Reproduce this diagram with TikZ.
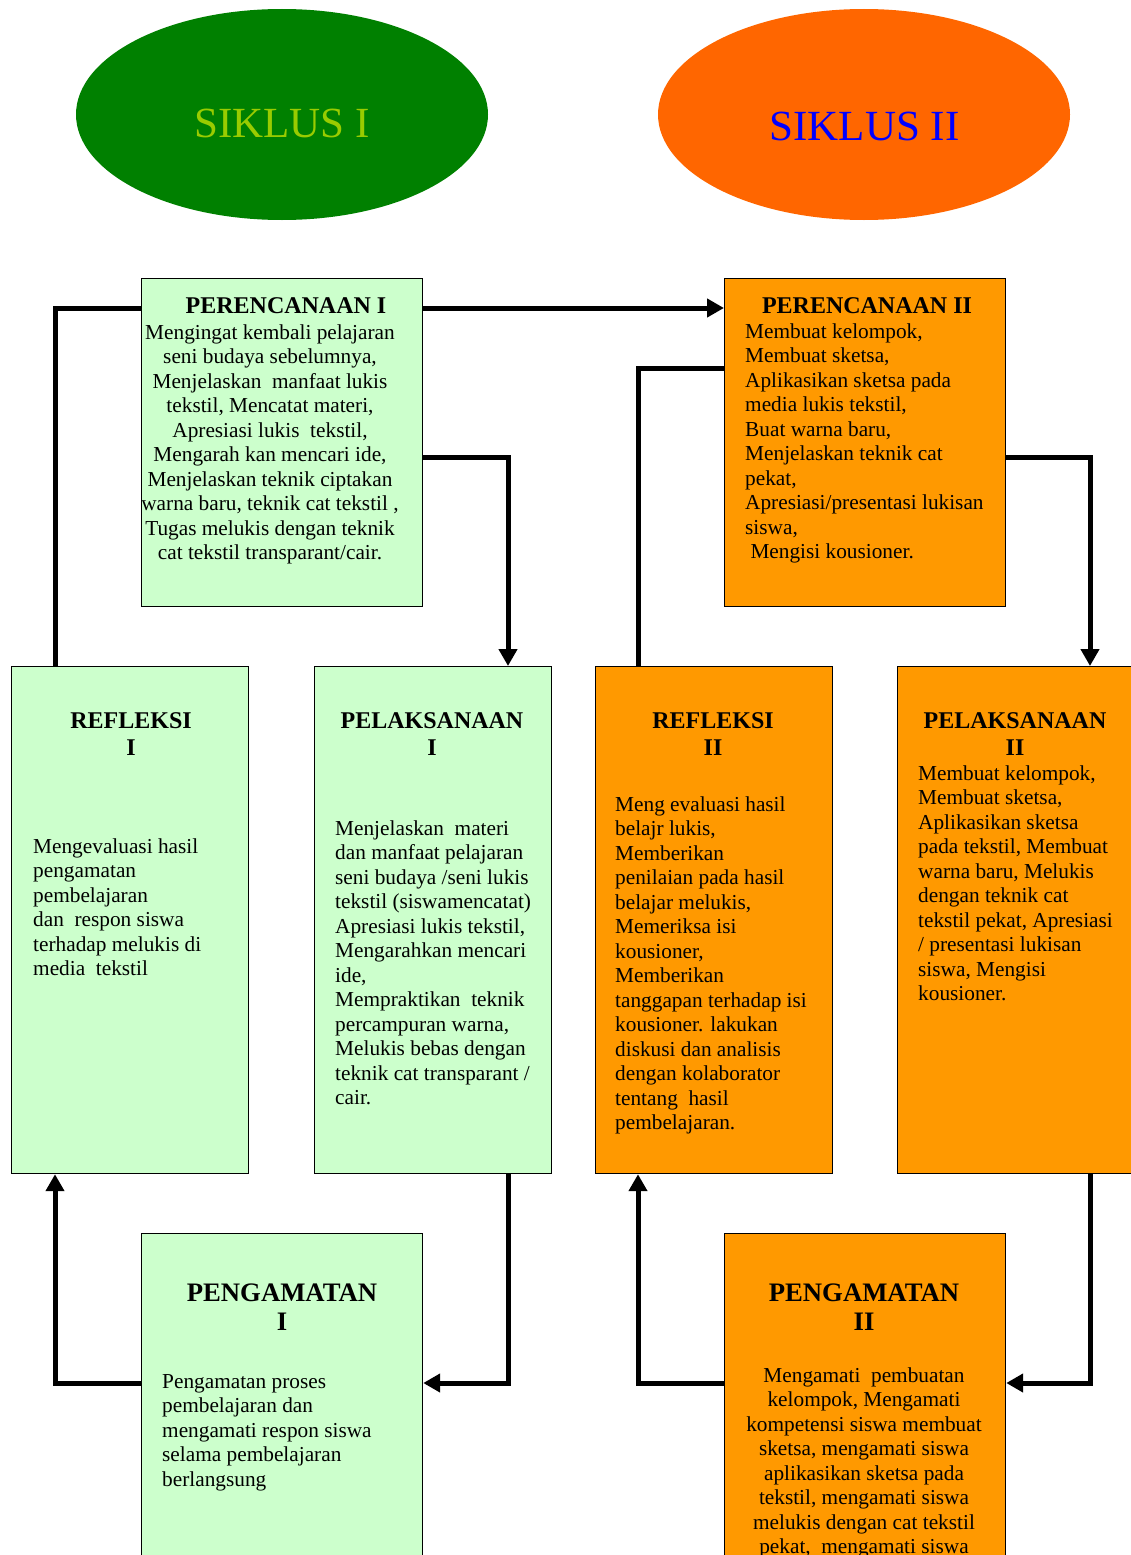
\documentclass[tikz,border=0pt]{standalone}
\usepackage{fontspec}
\setmainfont{Liberation Serif}
\usetikzlibrary{shapes.geometric,arrows.meta}
\definecolor{lgreen}{HTML}{CCFFCC}
\definecolor{orng}{HTML}{FF9900}
\definecolor{dgreen}{HTML}{008000}
\definecolor{redorange}{HTML}{FF6600}
\definecolor{yellowgreen}{HTML}{99CC00}
\newcommand{\mystrut}{\rule{0pt}{20pt}}
\begin{document}
\begin{tikzpicture}[x=1pt,y=-1pt,
  box1/.style={draw=black, line width=1.2pt, fill=lgreen, rectangle, anchor=north west, inner sep=0pt},
  box2/.style={box1, fill=orng},
  wbox/.style={minimum width=281pt, minimum height=328pt},
  nbox/.style={minimum width=237pt, minimum height=507pt},
  ell/.style={ellipse, minimum width=412pt, minimum height=211pt, inner sep=0pt, draw=none},
  cyc/.style={font=\fontsize{43}{50}\selectfont, inner sep=0pt, anchor=base},
  ttl/.style={font=\fontsize{24}{27}\selectfont\bfseries, inner sep=0pt, anchor=north, align=center},
  bigttl/.style={font=\fontsize{26.7}{29.5}\selectfont\bfseries, inner sep=0pt, anchor=north, align=center},
  txt/.style={font=\fontsize{21.3}{24.5}\selectfont, inner sep=0pt},
  txtl/.style={txt, anchor=north west, align=left},
  txtc/.style={txt, anchor=north, align=center},
  conn/.style={line width=5pt},
  arr/.style={conn, -{Triangle[length=17pt, width=18pt]}},
]
\useasboundingbox (0,0) rectangle (1131,1555);
\clip (0,0) rectangle (1131,1555);

% cycle ellipses
\node[ell, fill=dgreen] (e1) at (282,114.5) {};
\node[ell, fill=redorange] (e2) at (864,114.5) {};
\node[cyc, text=yellowgreen] (s1) at (282,137) {SIKLUS I};
\node[cyc, text=blue] (s2) at (864.5,140) {SIKLUS II};

% boxes
\node[box1, wbox] (p1) at (141,278) {};
\node[box2, wbox] (p2) at (724,278) {};
\node[box1, nbox] (r1) at (11,666) {};
\node[box1, nbox] (l1) at (314,666) {};
\node[box2, nbox] (r2) at (595,666) {};
\node[box2, nbox] (l2) at (897,666) {};
\node[box1, wbox] (g1) at (141,1233) {};
\node[box2, wbox] (g2) at (724,1233) {};

% guide coordinates
\coordinate (hA) at (0,308);
\coordinate (hB) at (0,457);
\coordinate (hC) at (0,1383);
\coordinate (hD) at (0,368);
\coordinate (vA) at (55,0);
\coordinate (vB) at (508,0);
\coordinate (vC) at (638,0);
\coordinate (vD) at (1090,0);

% connectors cycle I
\draw[conn] (r1.north -| vA) |- (p1.west |- hA);
\draw[arr] (p1.east |- hA) -- (p2.west |- hA);
\draw[arr] (p1.east |- hB) -| (l1.north -| vB);
\draw[arr] (l1.south -| vB) |- (g1.east |- hC);
\draw[arr] (g1.west |- hC) -| (r1.south -| vA);
% connectors cycle II
\draw[conn] (r2.north -| vC) |- (p2.west |- hD);
\draw[arr] (p2.east |- hB) -| (l2.north -| vD);
\draw[arr] (l2.south -| vD) |- (g2.east |- hC);
\draw[arr] (g2.west |- hC) -| (r2.south -| vC);

% texts
\node[ttl] (tp1) at (286,293) {\mystrut PERENCANAAN I};
\node[txtc] (bp1) at (270,319) {\mystrut Mengingat kembali pelajaran\\
seni budaya sebelumnya,\\
Menjelaskan\ \ manfaat lukis\\
tekstil, Mencatat materi,\\
Apresiasi lukis\ \ tekstil,\\
Mengarah kan mencari ide,\\
Menjelaskan teknik ciptakan\\
warna baru, teknik cat tekstil ,\\
Tugas melukis dengan teknik\\
cat tekstil transparant/cair.};

\node[ttl] (tp2) at (867,293) {\mystrut PERENCANAAN II};
\node[txtl] (bp2) at (745,318) {\mystrut Membuat kelompok,\\
Membuat sketsa,\\
Aplikasikan sketsa pada\\
media lukis tekstil,\\
Buat warna baru,\\
Menjelaskan teknik cat\\
pekat,\\
Apresiasi/presentasi lukisan\\
siswa,\\
\ Mengisi kousioner.};

\node[ttl] (tr1) at (131,708) {\mystrut REFLEKSI\\I};
\node[txtl] (br1) at (33,833) {\mystrut Mengevaluasi hasil\\
pengamatan\\
pembelajaran\\
dan\ \ respon siswa\\
terhadap melukis di\\
media\ \ tekstil};

\node[ttl] (tl1) at (432,708) {\mystrut PELAKSANAAN\\I};
\node[txtl] (bl1) at (335,815) {\mystrut Menjelaskan\ \ materi\\
dan manfaat pelajaran\\
seni budaya /seni lukis\\
tekstil (siswamencatat)\\
Apresiasi lukis tekstil,\\
Mengarahkan mencari\\
ide,\\
Mempraktikan\ \ teknik\\
percampuran warna,\\
Melukis bebas dengan\\
teknik cat transparant /\\
cair.};

\node[ttl] (tr2) at (713,708) {\mystrut REFLEKSI\\II};
\node[txtl] (br2) at (615,791) {\mystrut Meng evaluasi hasil\\
belajr lukis,\\
Memberikan\\
penilaian pada hasil\\
belajar melukis,\\
Memeriksa isi\\
kousioner,\\
Memberikan\\
tanggapan terhadap isi\\
kousioner. lakukan\\
diskusi dan analisis\\
dengan kolaborator\\
tentang\ \ hasil\\
pembelajaran.};

\node[ttl] (tl2) at (1015,708) {\mystrut PELAKSANAAN\\II};
\node[txtl] (bl2) at (918,760) {\mystrut Membuat kelompok,\\
Membuat sketsa,\\
Aplikasikan sketsa\\
pada tekstil, Membuat\\
warna baru, Melukis\\
dengan teknik cat\\
tekstil pekat, Apresiasi\\
/ presentasi lukisan\\
siswa, Mengisi\\
kousioner.};

\node[bigttl] (tg1) at (282,1281) {\mystrut PENGAMATAN\\I};
\node[txtl] (bg1) at (162,1368) {\mystrut Pengamatan proses\\
pembelajaran dan\\
mengamati respon siswa\\
selama pembelajaran\\
berlangsung};

\node[bigttl] (tg2) at (864,1281) {\mystrut PENGAMATAN\\II};
\node[txtc] (bg2) at (864,1362) {\mystrut Mengamati\ \ pembuatan\\
kelompok, Mengamati\\
kompetensi siswa membuat\\
sketsa, mengamati siswa\\
aplikasikan sketsa pada\\
tekstil, mengamati siswa\\
melukis dengan cat tekstil\\
pekat,\ \ mengamati siswa};
\end{tikzpicture}
\end{document}
